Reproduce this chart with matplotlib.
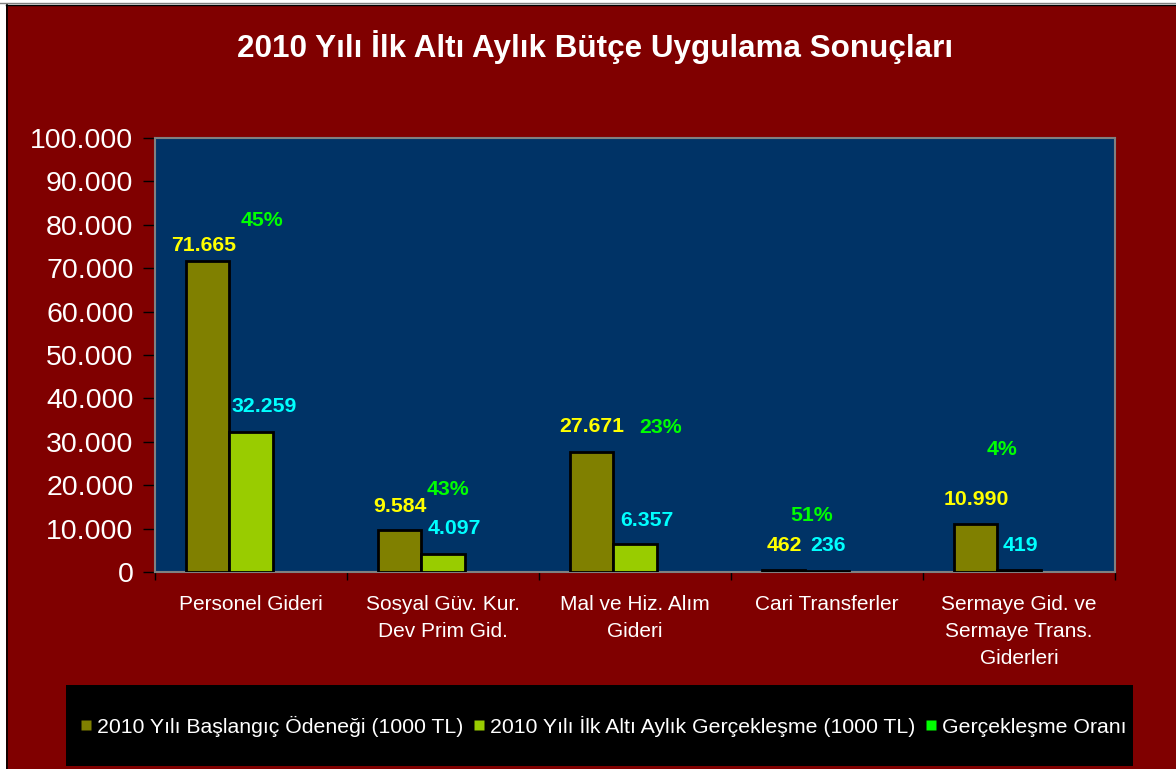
import matplotlib
matplotlib.use('Agg')
import matplotlib.pyplot as plt
from matplotlib.patches import Rectangle
from matplotlib.lines import Line2D
from matplotlib.ticker import FuncFormatter, FixedLocator
import numpy as np

plt.rcParams['font.family'] = ['Liberation Sans', 'DejaVu Sans']

# ---------------- data ----------------
title = "2010 Yılı İlk Altı Aylık Bütçe Uygulama Sonuçları"
categories = ["Personel Gideri",
              "Sosyal Güv. Kur.\nDev Prim Gid.",
              "Mal ve Hiz. Alım\nGideri",
              "Cari Transferler",
              "Sermaye Gid. ve\nSermaye Trans.\nGiderleri"]
budget = [71665, 9584, 27671, 462, 10990]          # 2010 Yılı Başlangıç Ödeneği (1000 TL)
actual = [32259, 4097, 6357, 236, 419]             # 2010 Yılı İlk Altı Aylık Gerçekleşme (1000 TL)
rate = [45, 43, 23, 51, 4]                         # Gerçekleşme Oranı (%)
series_names = ["2010 Yılı Başlangıç Ödeneği (1000 TL)",
                "2010 Yılı İlk Altı Aylık Gerçekleşme (1000 TL)",
                "Gerçekleşme Oranı"]
yticks = [0, 10000, 20000, 30000, 40000, 50000, 60000, 70000, 80000, 90000, 100000]

# ---------------- styling ----------------
W, H = 1176, 769
C_BG = '#800000'
C_PLOT = '#003366'
C_OLIVE = '#808000'
C_GREEN = '#99CC00'
C_RATE = '#00FF00'

fig = plt.figure(figsize=(W / 100, H / 100), dpi=100, facecolor='white')

# outer chart area
fig.patches.append(Rectangle((6 / W, 0), (W - 6) / W, (H - 5) / H, transform=fig.transFigure,
                             facecolor=C_BG, edgecolor='none', zorder=-2))
fig.add_artist(Line2D([6.5 / W, 6.5 / W], [0, 1 - 4 / H], transform=fig.transFigure,
                      color='black', lw=1.2, zorder=-1))
fig.add_artist(Line2D([6 / W, 1], [1 - 4.5 / H, 1 - 4.5 / H], transform=fig.transFigure,
                      color='black', lw=1.0, zorder=-1))
fig.add_artist(Line2D([0, 1], [1 - 3.2 / H, 1 - 3.2 / H], transform=fig.transFigure,
                      color='#808080', lw=1.0, zorder=-1))

# legend box
fig.patches.append(Rectangle((66 / W, 1 - 766 / H), 1067 / W, 81 / H, transform=fig.transFigure,
                             facecolor='black', edgecolor='none', zorder=-1))

fig.text(595 / W, 1 - 47 / H, title, ha='center', va='center', color='white',
         fontsize=22.6, fontweight='bold')

ax = fig.add_axes([155 / W, 1 - 572 / H, 960 / W, 434 / H])
ax.set_zorder(2)
ax.set_facecolor(C_PLOT)
x = np.arange(len(categories))
bw = 0.224
ax.bar(x - bw, budget, bw, color=C_OLIVE, edgecolor='black', linewidth=2.0, zorder=3)
ax.bar(x, actual, bw, color=C_GREEN, edgecolor='black', linewidth=2.0, zorder=3)

ax.set_xlim(-0.5, len(categories) - 0.5)
ax.set_ylim(0, 100000)
ax.yaxis.set_major_locator(FixedLocator(yticks))
ax.yaxis.set_major_formatter(FuncFormatter(lambda v, p: f"{int(v):,}".replace(',', '.')))
ax.tick_params(axis='y', length=9, width=1, color='black', pad=6.5, labelsize=20.5,
               labelcolor='white')

ax.set_xticks(x)
ax.set_xticklabels(categories, fontsize=15, color='white', linespacing=1.52)
ax.set_xticks(np.arange(-0.5, len(categories)), minor=True)
ax.tick_params(axis='x', which='major', length=0, pad=16.5)
ax.tick_params(axis='x', which='minor', length=6, width=1, color='black')

for s in ax.spines.values():
    s.set_color('#808080')
    s.set_linewidth(1.5)

# value labels (offsets in pixels)
budget_off = [(-4, 15), (0, 24), (0, 25), (0, 24), (0, 25)]
actual_off = [(13, 25), (11, 26), (12, 24), (1, 25), (1, 25)]
for i, v in enumerate(budget):
    ax.annotate(f"{v:,}".replace(',', '.'), (x[i] - bw, v), xytext=budget_off[i],
                textcoords='offset pixels', ha='center', va='center', color='#FFFF00',
                fontsize=15.3, fontweight='bold', zorder=5)
for i, v in enumerate(actual):
    ax.annotate(f"{v:,}".replace(',', '.'), (x[i], v), xytext=actual_off[i],
                textcoords='offset pixels', ha='center', va='center', color='#00FFFF',
                fontsize=15.3, fontweight='bold', zorder=5)

# percentage labels (manually placed in the original chart)
pct_dx = [0.057, 0.026, 0.135, -0.078, -0.089]
pct_y = [81100, 18900, 33200, 13100, 28300]
for i, r in enumerate(rate):
    ax.text(x[i] + pct_dx[i], pct_y[i], f"{r}%", ha='center', va='center', color=C_RATE,
            fontsize=15.3, fontweight='bold', zorder=5)

handles = [Line2D([], [], marker='s', ls='none', markersize=7, markerfacecolor=c,
                  markeredgecolor='none') for c in (C_OLIVE, C_GREEN, C_RATE)]
leg = fig.legend(handles, series_names, loc='center', bbox_to_anchor=(603 / W, 1 - 726 / H),
                 ncol=3, frameon=False, fontsize=15.3, labelcolor='white', handlelength=0.6,
                 handletextpad=0.25, columnspacing=0.4)
leg.set_zorder(5)

fig.savefig('out.png', dpi=100, facecolor=fig.get_facecolor())
